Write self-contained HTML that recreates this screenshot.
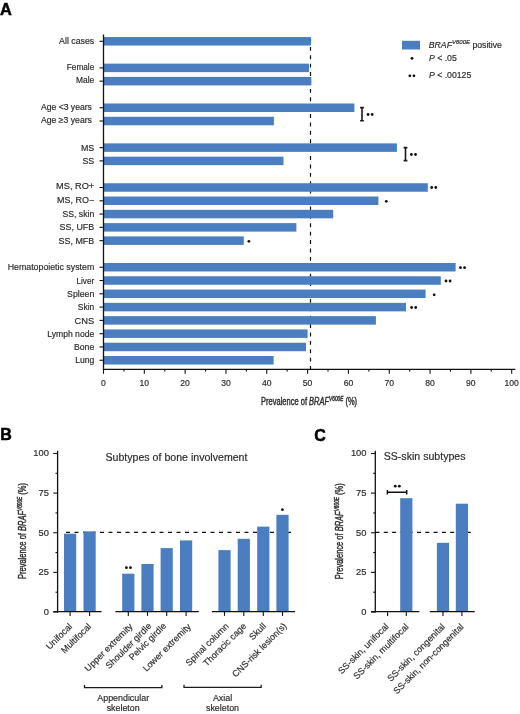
<!DOCTYPE html>
<html><head><meta charset="utf-8"><title>BRAF V600E prevalence</title>
<style>
html,body{margin:0;padding:0;background:#fff;}
body{width:520px;height:714px;overflow:hidden;}
svg{display:block;font-family:"Liberation Sans",sans-serif;will-change:transform;}
text{stroke:#2b2b2b;stroke-width:0.18px;}
.pl{font-size:16px;font-weight:bold;fill:#000;stroke:#000;stroke-width:0.5px;}
.cl{font-size:8.8px;fill:#2b2b2b;}
.tk{font-size:8.6px;fill:#2b2b2b;}
.tk2{font-size:8.8px;fill:#2b2b2b;}
.xl{font-size:10.3px;fill:#2b2b2b;stroke-width:0.4px;}
.lg{font-size:8.7px;fill:#2b2b2b;}
.tt{font-size:10.6px;fill:#2b2b2b;}
.rl{font-size:9px;fill:#2b2b2b;}
.bl{font-size:8.9px;fill:#2b2b2b;}
</style></head>
<body><svg width="520" height="714" viewBox="0 0 520 714">
<text x="0.1" y="14.6" class="pl" textLength="11.8" lengthAdjust="spacingAndGlyphs">A</text>
<line x1="310.5" y1="38.5" x2="310.5" y2="369" stroke="#111" stroke-width="1.2" stroke-dasharray="3.9 4.5"/>
<rect x="103.5" y="37.05" width="207.40" height="8.5" fill="#4a7ec1"/>
<line x1="99.5" y1="41.30" x2="103.5" y2="41.30" stroke="#111" stroke-width="1.1"/>
<text x="94.25" y="44.00" text-anchor="end" class="cl" textLength="35.15" lengthAdjust="spacingAndGlyphs">All cases</text>
<rect x="103.5" y="63.63" width="205.50" height="8.5" fill="#4a7ec1"/>
<line x1="99.5" y1="67.88" x2="103.5" y2="67.88" stroke="#111" stroke-width="1.1"/>
<text x="94.25" y="69.60" text-anchor="end" class="cl" textLength="27.45" lengthAdjust="spacingAndGlyphs">Female</text>
<rect x="103.5" y="76.92" width="207.80" height="8.5" fill="#4a7ec1"/>
<line x1="99.5" y1="81.17" x2="103.5" y2="81.17" stroke="#111" stroke-width="1.1"/>
<text x="94.25" y="83.40" text-anchor="end" class="cl" textLength="18.25" lengthAdjust="spacingAndGlyphs">Male</text>
<rect x="103.5" y="103.50" width="250.90" height="8.5" fill="#4a7ec1"/>
<line x1="99.5" y1="107.75" x2="103.5" y2="107.75" stroke="#111" stroke-width="1.1"/>
<text x="91.9" y="110.10" text-anchor="end" class="cl" textLength="50.90" lengthAdjust="spacingAndGlyphs">Age <3 years</text>
<rect x="103.5" y="116.79" width="170.40" height="8.5" fill="#4a7ec1"/>
<line x1="99.5" y1="121.04" x2="103.5" y2="121.04" stroke="#111" stroke-width="1.1"/>
<text x="91.9" y="123.00" text-anchor="end" class="cl" textLength="50.90" lengthAdjust="spacingAndGlyphs">Age ≥3 years</text>
<rect x="103.5" y="143.37" width="293.40" height="8.5" fill="#4a7ec1"/>
<line x1="99.5" y1="147.62" x2="103.5" y2="147.62" stroke="#111" stroke-width="1.1"/>
<text x="94.25" y="150.90" text-anchor="end" class="cl" textLength="13.35" lengthAdjust="spacingAndGlyphs">MS</text>
<rect x="103.5" y="156.66" width="180.00" height="8.5" fill="#4a7ec1"/>
<line x1="99.5" y1="160.91" x2="103.5" y2="160.91" stroke="#111" stroke-width="1.1"/>
<text x="94.25" y="163.60" text-anchor="end" class="cl" textLength="11.75" lengthAdjust="spacingAndGlyphs">SS</text>
<rect x="103.5" y="183.24" width="324.30" height="8.5" fill="#4a7ec1"/>
<line x1="99.5" y1="187.49" x2="103.5" y2="187.49" stroke="#111" stroke-width="1.1"/>
<text x="94.25" y="189.00" text-anchor="end" class="cl" textLength="38.15" lengthAdjust="spacingAndGlyphs">MS, RO+</text>
<rect x="103.5" y="196.53" width="274.90" height="8.5" fill="#4a7ec1"/>
<line x1="99.5" y1="200.78" x2="103.5" y2="200.78" stroke="#111" stroke-width="1.1"/>
<text x="94.25" y="202.50" text-anchor="end" class="cl" textLength="37.15" lengthAdjust="spacingAndGlyphs">MS, RO−</text>
<rect x="103.5" y="209.82" width="229.70" height="8.5" fill="#4a7ec1"/>
<line x1="99.5" y1="214.07" x2="103.5" y2="214.07" stroke="#111" stroke-width="1.1"/>
<text x="94.25" y="216.70" text-anchor="end" class="cl" textLength="31.75" lengthAdjust="spacingAndGlyphs">SS, skin</text>
<rect x="103.5" y="223.11" width="192.90" height="8.5" fill="#4a7ec1"/>
<line x1="99.5" y1="227.36" x2="103.5" y2="227.36" stroke="#111" stroke-width="1.1"/>
<text x="94.25" y="229.80" text-anchor="end" class="cl" textLength="34.65" lengthAdjust="spacingAndGlyphs">SS, UFB</text>
<rect x="103.5" y="236.40" width="140.30" height="8.5" fill="#4a7ec1"/>
<line x1="99.5" y1="240.65" x2="103.5" y2="240.65" stroke="#111" stroke-width="1.1"/>
<text x="94.25" y="243.70" text-anchor="end" class="cl" textLength="35.75" lengthAdjust="spacingAndGlyphs">SS, MFB</text>
<rect x="103.5" y="262.98" width="352.10" height="8.5" fill="#4a7ec1"/>
<line x1="99.5" y1="267.23" x2="103.5" y2="267.23" stroke="#111" stroke-width="1.1"/>
<text x="94.25" y="270.00" text-anchor="end" class="cl" textLength="86.55" lengthAdjust="spacingAndGlyphs">Hematopoietic system</text>
<rect x="103.5" y="276.27" width="337.30" height="8.5" fill="#4a7ec1"/>
<line x1="99.5" y1="280.52" x2="103.5" y2="280.52" stroke="#111" stroke-width="1.1"/>
<text x="94.25" y="283.70" text-anchor="end" class="cl" textLength="17.75" lengthAdjust="spacingAndGlyphs">Liver</text>
<rect x="103.5" y="289.56" width="322.10" height="8.5" fill="#4a7ec1"/>
<line x1="99.5" y1="293.81" x2="103.5" y2="293.81" stroke="#111" stroke-width="1.1"/>
<text x="94.25" y="296.50" text-anchor="end" class="cl" textLength="27.15" lengthAdjust="spacingAndGlyphs">Spleen</text>
<rect x="103.5" y="302.85" width="302.50" height="8.5" fill="#4a7ec1"/>
<line x1="99.5" y1="307.10" x2="103.5" y2="307.10" stroke="#111" stroke-width="1.1"/>
<text x="94.25" y="309.60" text-anchor="end" class="cl" textLength="16.45" lengthAdjust="spacingAndGlyphs">Skin</text>
<rect x="103.5" y="316.14" width="272.40" height="8.5" fill="#4a7ec1"/>
<line x1="99.5" y1="320.39" x2="103.5" y2="320.39" stroke="#111" stroke-width="1.1"/>
<text x="94.25" y="323.50" text-anchor="end" class="cl" textLength="19.65" lengthAdjust="spacingAndGlyphs">CNS</text>
<rect x="103.5" y="329.43" width="204.10" height="8.5" fill="#4a7ec1"/>
<line x1="99.5" y1="333.68" x2="103.5" y2="333.68" stroke="#111" stroke-width="1.1"/>
<text x="94.25" y="336.50" text-anchor="end" class="cl" textLength="47.05" lengthAdjust="spacingAndGlyphs">Lymph node</text>
<rect x="103.5" y="342.72" width="202.50" height="8.5" fill="#4a7ec1"/>
<line x1="99.5" y1="346.97" x2="103.5" y2="346.97" stroke="#111" stroke-width="1.1"/>
<text x="94.25" y="349.80" text-anchor="end" class="cl" textLength="20.25" lengthAdjust="spacingAndGlyphs">Bone</text>
<rect x="103.5" y="356.01" width="170.10" height="8.5" fill="#4a7ec1"/>
<line x1="99.5" y1="360.26" x2="103.5" y2="360.26" stroke="#111" stroke-width="1.1"/>
<text x="94.25" y="363.30" text-anchor="end" class="cl" textLength="19.05" lengthAdjust="spacingAndGlyphs">Lung</text>
<line x1="103.5" y1="34.6" x2="103.5" y2="370" stroke="#111" stroke-width="1.3"/>
<line x1="102.9" y1="369.4" x2="515.4" y2="369.4" stroke="#111" stroke-width="1.3"/>
<line x1="103.50" y1="369.4" x2="103.50" y2="373.8" stroke="#111" stroke-width="1.1"/>
<text x="103.50" y="386.3" text-anchor="middle" class="tk">0</text>
<line x1="123.91" y1="369.4" x2="123.91" y2="371.6" stroke="#111" stroke-width="1.1"/>
<line x1="144.32" y1="369.4" x2="144.32" y2="373.8" stroke="#111" stroke-width="1.1"/>
<text x="144.32" y="386.3" text-anchor="middle" class="tk">10</text>
<line x1="164.73" y1="369.4" x2="164.73" y2="371.6" stroke="#111" stroke-width="1.1"/>
<line x1="185.14" y1="369.4" x2="185.14" y2="373.8" stroke="#111" stroke-width="1.1"/>
<text x="185.14" y="386.3" text-anchor="middle" class="tk">20</text>
<line x1="205.55" y1="369.4" x2="205.55" y2="371.6" stroke="#111" stroke-width="1.1"/>
<line x1="225.96" y1="369.4" x2="225.96" y2="373.8" stroke="#111" stroke-width="1.1"/>
<text x="225.96" y="386.3" text-anchor="middle" class="tk">30</text>
<line x1="246.37" y1="369.4" x2="246.37" y2="371.6" stroke="#111" stroke-width="1.1"/>
<line x1="266.78" y1="369.4" x2="266.78" y2="373.8" stroke="#111" stroke-width="1.1"/>
<text x="266.78" y="386.3" text-anchor="middle" class="tk">40</text>
<line x1="287.19" y1="369.4" x2="287.19" y2="371.6" stroke="#111" stroke-width="1.1"/>
<line x1="307.60" y1="369.4" x2="307.60" y2="373.8" stroke="#111" stroke-width="1.1"/>
<text x="307.60" y="386.3" text-anchor="middle" class="tk">50</text>
<line x1="328.01" y1="369.4" x2="328.01" y2="371.6" stroke="#111" stroke-width="1.1"/>
<line x1="348.42" y1="369.4" x2="348.42" y2="373.8" stroke="#111" stroke-width="1.1"/>
<text x="348.42" y="386.3" text-anchor="middle" class="tk">60</text>
<line x1="368.83" y1="369.4" x2="368.83" y2="371.6" stroke="#111" stroke-width="1.1"/>
<line x1="389.24" y1="369.4" x2="389.24" y2="373.8" stroke="#111" stroke-width="1.1"/>
<text x="389.24" y="386.3" text-anchor="middle" class="tk">70</text>
<line x1="409.65" y1="369.4" x2="409.65" y2="371.6" stroke="#111" stroke-width="1.1"/>
<line x1="430.06" y1="369.4" x2="430.06" y2="373.8" stroke="#111" stroke-width="1.1"/>
<text x="430.06" y="386.3" text-anchor="middle" class="tk">80</text>
<line x1="450.47" y1="369.4" x2="450.47" y2="371.6" stroke="#111" stroke-width="1.1"/>
<line x1="470.88" y1="369.4" x2="470.88" y2="373.8" stroke="#111" stroke-width="1.1"/>
<text x="470.88" y="386.3" text-anchor="middle" class="tk">90</text>
<line x1="491.29" y1="369.4" x2="491.29" y2="371.6" stroke="#111" stroke-width="1.1"/>
<line x1="511.70" y1="369.4" x2="511.70" y2="373.8" stroke="#111" stroke-width="1.1"/>
<text x="511.70" y="386.3" text-anchor="middle" class="tk">100</text>
<text x="261.1" y="405.1" class="xl" transform="translate(261.1 0) scale(0.73 1) translate(-261.1 0)">Prevalence of <tspan font-style="italic">BRAF</tspan><tspan font-style="italic" font-size="6.5" dy="-3.6">V600E</tspan><tspan dy="3.6"> (%)</tspan></text>
<path d="M360.10 107.6 H363.90 M362.00 107.6 V120.8 M360.10 120.8 H363.90" stroke="#1a1a1a" stroke-width="1.6" fill="none"/>
<circle cx="368.05" cy="114.50" r="1.4" fill="#111"/>
<circle cx="372.15" cy="114.50" r="1.4" fill="#111"/>
<path d="M403.60 147.6 H407.40 M405.50 147.6 V160.6 M403.60 160.6 H407.40" stroke="#1a1a1a" stroke-width="1.6" fill="none"/>
<circle cx="411.40" cy="154.50" r="1.4" fill="#111"/>
<circle cx="415.50" cy="154.50" r="1.4" fill="#111"/>
<circle cx="431.70" cy="187.50" r="1.4" fill="#111"/>
<circle cx="435.80" cy="187.50" r="1.4" fill="#111"/>
<circle cx="386.30" cy="201.30" r="1.4" fill="#111"/>
<circle cx="248.90" cy="241.30" r="1.4" fill="#111"/>
<circle cx="460.45" cy="267.70" r="1.4" fill="#111"/>
<circle cx="464.55" cy="267.70" r="1.4" fill="#111"/>
<circle cx="446.00" cy="281.00" r="1.4" fill="#111"/>
<circle cx="450.10" cy="281.00" r="1.4" fill="#111"/>
<circle cx="434.20" cy="294.80" r="1.4" fill="#111"/>
<circle cx="411.60" cy="307.50" r="1.4" fill="#111"/>
<circle cx="415.70" cy="307.50" r="1.4" fill="#111"/>
<rect x="402" y="40.8" width="18" height="8.7" fill="#4a7ec1"/>
<text x="428.8" y="47.6" class="lg"><tspan font-style="italic">BRAF</tspan><tspan font-style="italic" font-size="6" dy="-3.3">V600E</tspan><tspan dy="3.3"> positive</tspan></text>
<circle cx="412.00" cy="58.30" r="1.4" fill="#111"/>
<text x="429" y="60.6" class="lg"><tspan font-style="italic">P</tspan> &lt; .05</text>
<circle cx="409.85" cy="75.80" r="1.4" fill="#111"/>
<circle cx="413.95" cy="75.80" r="1.4" fill="#111"/>
<text x="429" y="78.3" class="lg"><tspan font-style="italic">P</tspan> &lt; .00125</text>
<text x="0.2" y="439.8" class="pl">B</text>
<line x1="66" y1="532.4" x2="292" y2="532.4" stroke="#111" stroke-width="1.4" stroke-dasharray="4 4.5"/>
<rect x="64.00" y="533.70" width="12.2" height="78.30" fill="#4a7ec1"/>
<rect x="83.50" y="531.40" width="12.2" height="80.60" fill="#4a7ec1"/>
<rect x="122.20" y="573.70" width="12.2" height="38.30" fill="#4a7ec1"/>
<rect x="141.40" y="564.00" width="12.2" height="48.00" fill="#4a7ec1"/>
<rect x="160.60" y="548.10" width="12.2" height="63.90" fill="#4a7ec1"/>
<rect x="180.00" y="540.40" width="12.2" height="71.60" fill="#4a7ec1"/>
<rect x="218.40" y="550.10" width="12.2" height="61.90" fill="#4a7ec1"/>
<rect x="237.70" y="538.80" width="12.2" height="73.20" fill="#4a7ec1"/>
<rect x="257.20" y="526.60" width="12.2" height="85.40" fill="#4a7ec1"/>
<rect x="276.40" y="514.80" width="12.2" height="97.20" fill="#4a7ec1"/>
<line x1="70.10" y1="612.0" x2="70.10" y2="615.9" stroke="#111" stroke-width="1.1"/>
<text x="0" y="0" text-anchor="end" class="rl" transform="translate(70.55 624.80) rotate(-45)" dy="3.1">Unifocal</text>
<line x1="89.60" y1="612.0" x2="89.60" y2="615.9" stroke="#111" stroke-width="1.1"/>
<text x="0" y="0" text-anchor="end" class="rl" transform="translate(89.45 624.80) rotate(-45)" dy="3.1">Multifocal</text>
<line x1="128.30" y1="612.0" x2="128.30" y2="615.9" stroke="#111" stroke-width="1.1"/>
<text x="0" y="0" text-anchor="end" class="rl" transform="translate(131.05 624.80) rotate(-45)" dy="3.1">Upper extremity</text>
<line x1="147.50" y1="612.0" x2="147.50" y2="615.9" stroke="#111" stroke-width="1.1"/>
<text x="0" y="0" text-anchor="end" class="rl" transform="translate(149.75 624.30) rotate(-45)" dy="3.1">Shoulder girdle</text>
<line x1="166.70" y1="612.0" x2="166.70" y2="615.9" stroke="#111" stroke-width="1.1"/>
<text x="0" y="0" text-anchor="end" class="rl" transform="translate(164.65 624.30) rotate(-45)" dy="3.1">Pelvic girdle</text>
<line x1="186.10" y1="612.0" x2="186.10" y2="615.9" stroke="#111" stroke-width="1.1"/>
<text x="0" y="0" text-anchor="end" class="rl" transform="translate(189.25 625.00) rotate(-45)" dy="3.1">Lower extremity</text>
<line x1="224.50" y1="612.0" x2="224.50" y2="615.9" stroke="#111" stroke-width="1.1"/>
<text x="0" y="0" text-anchor="end" class="rl" transform="translate(227.05 624.40) rotate(-45)" dy="3.1">Spinal column</text>
<line x1="243.80" y1="612.0" x2="243.80" y2="615.9" stroke="#111" stroke-width="1.1"/>
<text x="0" y="0" text-anchor="end" class="rl" transform="translate(244.55 624.50) rotate(-45)" dy="3.1">Thoracic cage</text>
<line x1="263.30" y1="612.0" x2="263.30" y2="615.9" stroke="#111" stroke-width="1.1"/>
<text x="0" y="0" text-anchor="end" class="rl" transform="translate(264.45 624.40) rotate(-45)" dy="3.1">Skull</text>
<line x1="282.50" y1="612.0" x2="282.50" y2="615.9" stroke="#111" stroke-width="1.1"/>
<text x="0" y="0" text-anchor="end" class="rl" transform="translate(284.90 624.30) rotate(-45)" dy="3.1">CNS-risk lesion(s)</text>
<line x1="57.6" y1="450.7" x2="57.6" y2="612.6" stroke="#111" stroke-width="1.3"/>
<line x1="53.30" y1="612.00" x2="57.6" y2="612.00" stroke="#111" stroke-width="1.1"/>
<text x="48.9" y="614.90" text-anchor="end" class="tk2" textLength="5.2" lengthAdjust="spacingAndGlyphs">0</text>
<line x1="55.50" y1="592.19" x2="57.6" y2="592.19" stroke="#111" stroke-width="1.1"/>
<line x1="53.30" y1="572.38" x2="57.6" y2="572.38" stroke="#111" stroke-width="1.1"/>
<text x="48.9" y="575.27" text-anchor="end" class="tk2" textLength="10.4" lengthAdjust="spacingAndGlyphs">25</text>
<line x1="55.50" y1="552.56" x2="57.6" y2="552.56" stroke="#111" stroke-width="1.1"/>
<line x1="53.30" y1="532.75" x2="57.6" y2="532.75" stroke="#111" stroke-width="1.1"/>
<text x="48.9" y="535.65" text-anchor="end" class="tk2" textLength="10.4" lengthAdjust="spacingAndGlyphs">50</text>
<line x1="55.50" y1="512.94" x2="57.6" y2="512.94" stroke="#111" stroke-width="1.1"/>
<line x1="53.30" y1="493.12" x2="57.6" y2="493.12" stroke="#111" stroke-width="1.1"/>
<text x="48.9" y="496.02" text-anchor="end" class="tk2" textLength="10.4" lengthAdjust="spacingAndGlyphs">75</text>
<line x1="55.50" y1="473.31" x2="57.6" y2="473.31" stroke="#111" stroke-width="1.1"/>
<line x1="53.30" y1="453.50" x2="57.6" y2="453.50" stroke="#111" stroke-width="1.1"/>
<text x="48.9" y="456.40" text-anchor="end" class="tk2" textLength="15.6" lengthAdjust="spacingAndGlyphs">100</text>
<line x1="53.3" y1="611.6" x2="101.5" y2="611.6" stroke="#111" stroke-width="1.3"/>
<line x1="115.4" y1="611.6" x2="198.8" y2="611.6" stroke="#111" stroke-width="1.3"/>
<line x1="211.9" y1="611.6" x2="295.1" y2="611.6" stroke="#111" stroke-width="1.3"/>
<text x="0" y="0" text-anchor="middle" class="xl" transform="translate(25.7 531) rotate(-90) scale(0.73 1)">Prevalence of <tspan font-style="italic">BRAF</tspan><tspan font-style="italic" font-size="6.5" dy="-3.6">V600E</tspan><tspan dy="3.6"> (%)</tspan></text>
<text x="105.5" y="461.3" class="tt">Subtypes of bone involvement</text>
<circle cx="126.40" cy="567.70" r="1.4" fill="#111"/>
<circle cx="130.50" cy="567.70" r="1.4" fill="#111"/>
<circle cx="282.40" cy="509.70" r="1.4" fill="#111"/>
<path d="M84.5 684.9 V687.5 H161.9 V684.9" stroke="#1a1a1a" stroke-width="1.25" fill="none"/>
<text x="123.2" y="700.9" text-anchor="middle" class="bl">Appendicular</text>
<text x="123.2" y="711.3" text-anchor="middle" class="bl">skeleton</text>
<path d="M184.0 684.6999999999999 V687.3 H261.2 V684.6999999999999" stroke="#1a1a1a" stroke-width="1.25" fill="none"/>
<text x="222.5" y="700.5" text-anchor="middle" class="bl">Axial</text>
<text x="222.5" y="711.3" text-anchor="middle" class="bl">skeleton</text>
<text x="314.2" y="440.6" class="pl">C</text>
<line x1="375.5" y1="532.4" x2="473" y2="532.4" stroke="#111" stroke-width="1.4" stroke-dasharray="4 4.3"/>
<rect x="400.20" y="498.20" width="12.2" height="113.80" fill="#4a7ec1"/>
<rect x="436.90" y="542.80" width="12.2" height="69.20" fill="#4a7ec1"/>
<rect x="455.80" y="503.70" width="12.2" height="108.30" fill="#4a7ec1"/>
<line x1="387.60" y1="612.0" x2="387.60" y2="615.9" stroke="#111" stroke-width="1.1"/>
<text x="0" y="0" text-anchor="end" class="rl" transform="translate(387.05 624.80) rotate(-45)" dy="3.1">SS-skin, unifocal</text>
<line x1="406.30" y1="612.0" x2="406.30" y2="615.9" stroke="#111" stroke-width="1.1"/>
<text x="0" y="0" text-anchor="end" class="rl" transform="translate(407.05 625.20) rotate(-45)" dy="3.1">SS-skin, multifocal</text>
<line x1="443.00" y1="612.0" x2="443.00" y2="615.9" stroke="#111" stroke-width="1.1"/>
<text x="0" y="0" text-anchor="end" class="rl" transform="translate(443.25 625.20) rotate(-45)" dy="3.1">SS-skin, congenital</text>
<line x1="461.90" y1="612.0" x2="461.90" y2="615.9" stroke="#111" stroke-width="1.1"/>
<text x="0" y="0" text-anchor="end" class="rl" transform="translate(462.05 625.20) rotate(-45)" dy="3.1">SS-skin, non-congenital</text>
<line x1="375.3" y1="450.7" x2="375.3" y2="612.6" stroke="#111" stroke-width="1.3"/>
<line x1="371.00" y1="612.00" x2="375.3" y2="612.00" stroke="#111" stroke-width="1.1"/>
<text x="366.5" y="614.90" text-anchor="end" class="tk2" textLength="5.2" lengthAdjust="spacingAndGlyphs">0</text>
<line x1="373.20" y1="592.19" x2="375.3" y2="592.19" stroke="#111" stroke-width="1.1"/>
<line x1="371.00" y1="572.38" x2="375.3" y2="572.38" stroke="#111" stroke-width="1.1"/>
<text x="366.5" y="575.27" text-anchor="end" class="tk2" textLength="10.4" lengthAdjust="spacingAndGlyphs">25</text>
<line x1="373.20" y1="552.56" x2="375.3" y2="552.56" stroke="#111" stroke-width="1.1"/>
<line x1="371.00" y1="532.75" x2="375.3" y2="532.75" stroke="#111" stroke-width="1.1"/>
<text x="366.5" y="535.65" text-anchor="end" class="tk2" textLength="10.4" lengthAdjust="spacingAndGlyphs">50</text>
<line x1="373.20" y1="512.94" x2="375.3" y2="512.94" stroke="#111" stroke-width="1.1"/>
<line x1="371.00" y1="493.12" x2="375.3" y2="493.12" stroke="#111" stroke-width="1.1"/>
<text x="366.5" y="496.02" text-anchor="end" class="tk2" textLength="10.4" lengthAdjust="spacingAndGlyphs">75</text>
<line x1="373.20" y1="473.31" x2="375.3" y2="473.31" stroke="#111" stroke-width="1.1"/>
<line x1="371.00" y1="453.50" x2="375.3" y2="453.50" stroke="#111" stroke-width="1.1"/>
<text x="366.5" y="456.40" text-anchor="end" class="tk2" textLength="15.6" lengthAdjust="spacingAndGlyphs">100</text>
<line x1="371.0" y1="611.6" x2="419.4" y2="611.6" stroke="#111" stroke-width="1.3"/>
<line x1="429.8" y1="611.6" x2="474.7" y2="611.6" stroke="#111" stroke-width="1.3"/>
<text x="0" y="0" text-anchor="middle" class="xl" transform="translate(342.9 531.3) rotate(-90) scale(0.73 1)">Prevalence of <tspan font-style="italic">BRAF</tspan><tspan font-style="italic" font-size="6.5" dy="-3.6">V600E</tspan><tspan dy="3.6"> (%)</tspan></text>
<text x="383.7" y="460.4" class="tt">SS-skin subtypes</text>
<path d="M387.4 490.1 V494.4 M387.4 492.3 H406.7 M406.7 490.1 V494.4" stroke="#111" stroke-width="1.5" fill="none"/>
<circle cx="395.25" cy="486.20" r="1.4" fill="#111"/>
<circle cx="399.35" cy="486.20" r="1.4" fill="#111"/>
</svg></body></html>
